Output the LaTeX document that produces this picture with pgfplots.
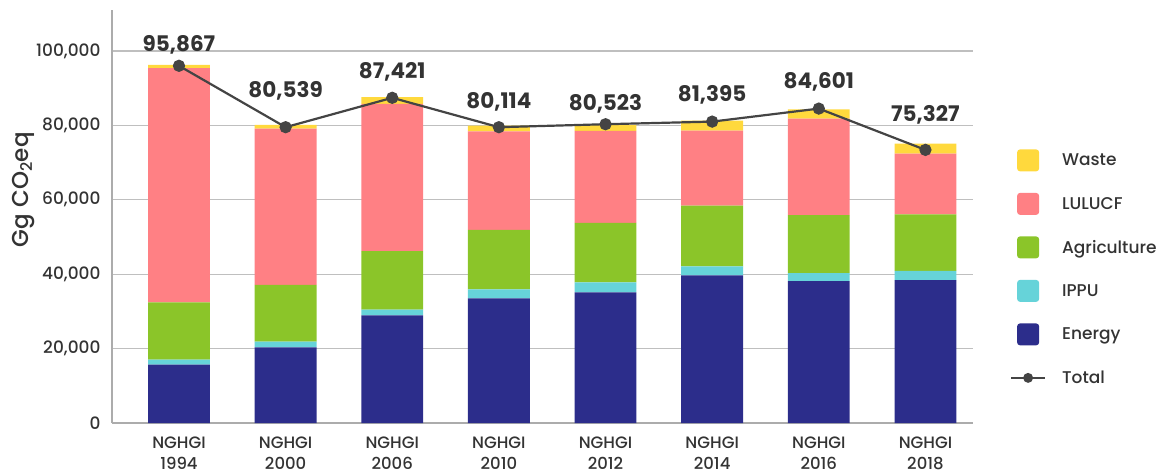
\documentclass[border=0pt]{standalone}
\usepackage{fontspec}
\setmainfont{Poppins}
\newfontfamily\med{Poppins Medium}
\usepackage{pgfplots}
\pgfplotsset{compat=1.18}

\definecolor{waste}{RGB}{255,217,61}
\definecolor{lulucf}{RGB}{255,128,132}
\definecolor{agri}{RGB}{139,197,41}
\definecolor{ippu}{RGB}{102,211,217}
\definecolor{energy}{RGB}{44,45,139}
\definecolor{totalc}{RGB}{68,68,68}
\definecolor{textc}{RGB}{51,51,51}

\pgfplotsset{
  sq/.style={legend image code/.code={\fill[##1, rounded corners=3pt] (0pt,-11pt) rectangle (22pt,11pt);}},
  common/.style={
    width=861pt, height=413pt, scale only axis,
    xmin=-0.628, xmax=7.446, ymin=0, ymax=111000,
  },
}

\begin{document}
\begin{tikzpicture}
\begin{axis}[
    common, name=main,
    ybar stacked, bar width=0.58,
    axis x line*=bottom, axis y line*=left,
    axis line style={-, draw=gray!65, line width=1.3pt},
    tick style={draw=none},
    ymajorgrids=true,
    grid style={draw=gray!50, line width=1.3pt},
    xtick={0,...,7},
    xticklabels={{NGHGI\\1994},{NGHGI\\2000},{NGHGI\\2006},{NGHGI\\2010},
                 {NGHGI\\2012},{NGHGI\\2014},{NGHGI\\2016},{NGHGI\\2018}},
    xticklabel style={align=center, font=\med\fontsize{16.5}{21}\selectfont, text=textc, yshift=-10.5pt},
    ytick={0,20000,40000,60000,80000,100000},
    yticklabels={0,{20,000},{40,000},{60,000},{80,000},{100,000}},
    yticklabel style={font=\med\fontsize{17}{19}\selectfont, text=textc, xshift=-8pt},
    ylabel={Gg CO\textsubscript{2}eq},
    ylabel style={at={(axis description cs:-0.103,0.565)}, anchor=center,
                  font=\med\fontsize{23}{25}\selectfont, text=textc},
    reverse legend,
    legend cell align=left,
    legend style={at={(axis description cs:1.051,0.663)}, anchor=north west,
                  draw=none, fill=none, inner sep=0pt, row sep=21.5pt,
                  font=\med\fontsize{17}{19}\selectfont, text=textc,
                  nodes={inner sep=0pt},
                  /tikz/every odd column/.append style={column sep=23pt}},
]
\addlegendimage{legend image code/.code={
    \path[draw=none, fill=none] (0pt,-11pt) rectangle (22pt,11pt);
    \draw[overlay, draw=totalc, line width=2.5pt] (-6pt,0pt) -- (28pt,0pt);
    \fill[overlay, fill=totalc, draw=none] (11pt,0pt) circle (5pt);}}
% Energy
\addplot[fill=energy, draw=none, sq] coordinates {
    (0,15700) (1,20300) (2,28900) (3,33500) (4,35100) (5,39700) (6,38100) (7,38400)};
% IPPU
\addplot[fill=ippu, draw=none, sq] coordinates {
    (0,1300) (1,1600) (2,1600) (3,2400) (4,2700) (5,2400) (6,2200) (7,2500)};
% Agriculture
\addplot[fill=agri, draw=none, sq] coordinates {
    (0,15400) (1,15200) (2,15700) (3,16000) (4,16000) (5,16300) (6,15600) (7,15200)};
% LULUCF
\addplot[fill=lulucf, draw=none, sq] coordinates {
    (0,63000) (1,42000) (2,39600) (3,26500) (4,24700) (5,20200) (6,25900) (7,16300)};
% Waste
\addplot[fill=waste, draw=none, sq] coordinates {
    (0,850) (1,1000) (2,1800) (3,1500) (4,1600) (5,2700) (6,2500) (7,2700)};
\legend{Total, Energy, IPPU, Agriculture, LULUCF, Waste}
\end{axis}

\begin{axis}[common, hide axis, clip=false]
\addplot[color=totalc, line width=2.2pt, mark=*, mark size=5pt,
         mark options={fill=totalc, draw=totalc}] coordinates {
    (0,96000) (1,79500) (2,87400) (3,79500) (4,80300) (5,81000) (6,84500) (7,73400)};
\addplot[draw=none, nodes near coords, point meta=explicit symbolic,
         every node near coord/.append style={anchor=center,
            font=\fontsize{21.5}{23}\selectfont\bfseries, text=textc}]
    table[meta=lab] {
    x y lab
    0 101700 95,867
    1 89300 80,539
    2 94300 87,421
    3 86300 80,114
    4 85800 80,523
    5 88100 81,395
    6 91600 84,601
    7 82900 75,327
};
\end{axis}

\pgfresetboundingbox
\path[use as bounding box] (main.south west) ++(-112pt,-51pt) rectangle ++(1160pt,474pt);
\end{tikzpicture}
\end{document}
